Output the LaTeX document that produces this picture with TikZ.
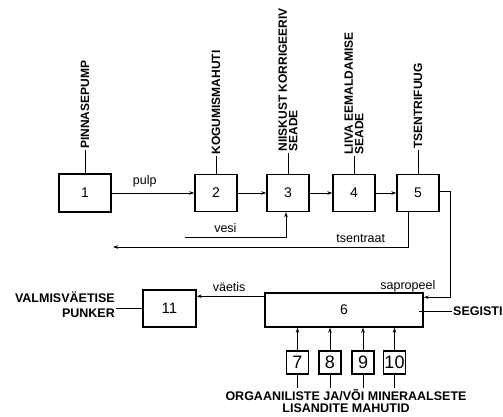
\documentclass[tikz,border=0pt]{standalone}
\usepackage{fontspec}
\setmainfont{Liberation Sans}
\usetikzlibrary{arrows.meta}

\begin{document}
\begin{tikzpicture}[x=1pt,y=-1pt,>={Stealth[length=5pt,width=3.5pt]},box/.style={draw,line width=1.4pt,inner sep=0pt,minimum width=42pt,minimum height=37pt,font=\fontsize{14}{14}\selectfont},tank/.style={draw,line width=1.3pt,inner sep=0pt,minimum width=22pt,minimum height=23pt,font=\fontsize{18}{18}\selectfont},flow/.style={->,line width=0.8pt},lead/.style={line width=0.8pt},toplabel/.style={rotate=90,anchor=west,inner sep=1pt,align=left,font=\fontsize{12}{10.5}\selectfont\bfseries},caption/.style={inner sep=1pt,font=\fontsize{12.5}{13}\selectfont\bfseries},stream/.style={inner sep=1pt,font=\fontsize{12.5}{12.5}\selectfont}]
\useasboundingbox (0,0) rectangle (503,417);
\node[box,minimum width=52pt,minimum height=38pt] (b1) at (85,193) {1};
\node[box] (b2) at (216,193) {2}; \node[box] (b3) at (288,193) {3}; \node[box] (b4) at (354,193) {4}; \node[box] (b5) at (418,193) {5};
\node[box,minimum width=158pt,minimum height=34pt] (b6) at (344,310) {6};
\node[box,minimum width=53pt,minimum height=37pt,font=\fontsize{15}{15}\selectfont] (b11) at (169.5,308.5) {11};
\node[tank] (b7) at (297.5,362.5) {7}; \node[tank] (b8) at (330,362.5) {8}; \node[tank] (b9) at (363,362.5) {9}; \node[tank] (b10) at (394.5,362.5) {10};
\draw[lead] (b1.north) -- ++(0,-23) node[toplabel] {PINNASEPUMP};
\draw[lead] (b2.north) -- ++(0,-18) node[toplabel] {KOGUMISMAHUTI};
\draw[lead] (b3.north) -- ++(0,-21) node[toplabel] {NIISKUST KORRIGEERIV\\SEADE};
\draw[lead] (b4.north) -- ++(0,-18) node[toplabel] {LIIVA EEMALDAMISE\\SEADE};
\draw[lead] (b5.north) -- ++(0,-24) node[toplabel] {TSENTRIFUUG};
\draw[flow] (b1) -- (b2) node[stream,pos=0.4,above=5pt] {pulp};
\draw[flow] (b2) -- (b3); \draw[flow] (b3) -- (b4); \draw[flow] (b4) -- (b5);
\coordinate (vesiIn) at (185,237); \coordinate (tsOut) at (113,247);
\draw[flow] (vesiIn) -| ([xshift=-2pt]b3.south) node[stream,pos=0.2,above=3pt] {vesi};
\draw[flow] ([xshift=-10pt]b5.south) |- (tsOut) node[stream,pos=0.58,above=3pt] {tsentraat};
\draw[flow] ([yshift=2pt]b5.east) -- ++(11,0) |- ([yshift=-5pt]b6.north east) node[stream,pos=0.5,anchor=south east,xshift=-14pt,yshift=4pt] {sapropeel};
\coordinate (v6) at ([yshift=-4pt]b6.north west);
\draw[flow] (v6) -- (v6 -| b11.east) node[stream,pos=0.52,above=3pt] {väetis};
\node[caption,anchor=west] (segisti) at (452,311) {SEGISTI};
\draw[lead] ([xshift=-5pt]b6.east |- segisti.west) -- (segisti.west);
\node[caption,anchor=east,align=right,font=\fontsize{12.5}{15}\selectfont\bfseries] (punker) at (116,305) {VALMISVÄETISE\\PUNKER};
\draw[lead] (b11.west) -- (b11.west -| punker.east);
\draw[flow] (b7.north) -- (b7.north |- b6.south); \draw[flow] (b8.north) -- (b8.north |- b6.south); \draw[flow] (b9.north) -- (b9.north |- b6.south); \draw[flow] (b10.north) -- (b10.north |- b6.south);
\draw[lead] (b7.south) -- ++(0,13); \draw[lead] (b8.south) -- ++(0,13); \draw[lead] (b9.south) -- ++(0,13); \draw[lead] (b10.south) -- ++(0,13);
\node[caption,align=center,font=\fontsize{12.5}{12.5}\selectfont\bfseries] (tanks) at (346,401) {ORGAANILISTE JA/VÕI MINERAALSETE\\LISANDITE MAHUTID};
\end{tikzpicture}
\end{document}
